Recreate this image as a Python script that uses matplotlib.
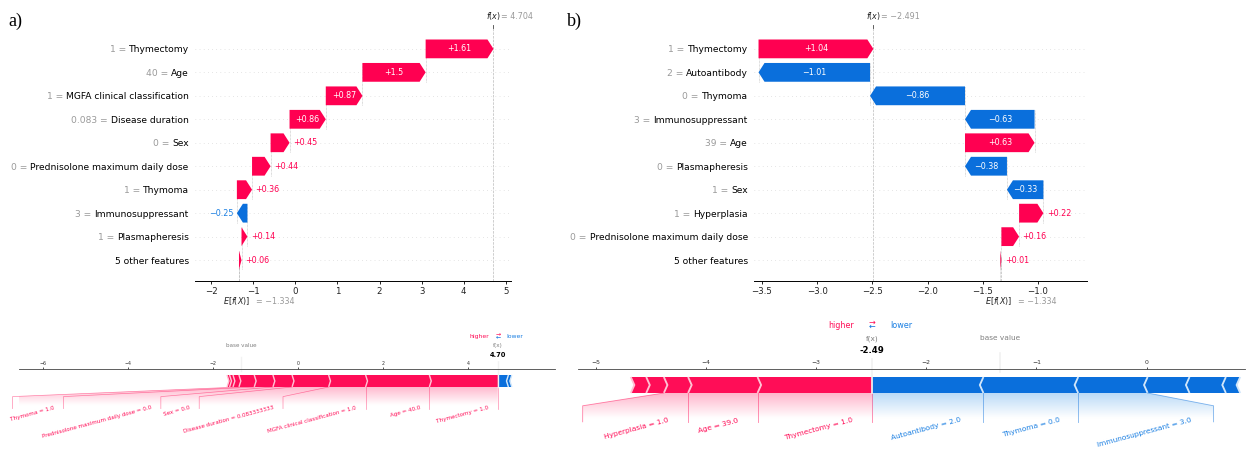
import re
import numpy as np
import matplotlib
matplotlib.use("Agg")
import matplotlib.pyplot as plt
import matplotlib.transforms as mtransforms
from matplotlib import lines as mlines
from matplotlib.path import Path
from matplotlib.patches import PathPatch, Polygon
from matplotlib.colors import LinearSegmentedColormap
from matplotlib.ticker import MultipleLocator

# ---------------- waterfall data ----------------
wf_a_names = ["Thymectomy", "Age", "MGFA clinical classification", "Disease duration", "Sex",
              "Prednisolone maximum daily dose", "Thymoma", "Immunosuppressant",
              "Plasmapheresis", "5 other features"]
wf_a_values = ["1", "40", "1", "0.083", "0", "0", "1", "3", "1", ""]
wf_a_shap = [1.61, 1.5, 0.87, 0.86, 0.45, 0.44, 0.36, -0.25, 0.14, 0.06]
wf_a_base = -1.334
wf_a_fx = 4.704

wf_b_names = ["Thymectomy", "Autoantibody", "Thymoma", "Immunosuppressant", "Age",
              "Plasmapheresis", "Sex", "Hyperplasia", "Prednisolone maximum daily dose",
              "5 other features"]
wf_b_values = ["1", "2", "0", "3", "39", "0", "1", "1", "0", ""]
wf_b_shap = [1.04, -1.01, -0.86, -0.63, 0.63, -0.38, -0.33, 0.22, 0.16, 0.01]
wf_b_base = -1.334
wf_b_fx = -2.491

# ---------------- force plot data ----------------
fa_pos_names = ["Thymectomy", "Age", "MGFA clinical classification", "Disease duration", "Sex",
                "Prednisolone maximum daily dose", "Thymoma", "Plasmapheresis", "", ""]
fa_pos_values = ["1.0", "40.0", "1.0", "0.083333333", "0.0", "0.0", "1.0", "1.0", "", ""]
fa_pos_shap = [1.61, 1.50, 0.87, 0.86, 0.45, 0.44, 0.36, 0.14, 0.08, 0.06]
fa_neg_names = ["Immunosuppressant", ""]
fa_neg_values = ["3.0", ""]
fa_neg_shap = [-0.25, -0.08]
fa_base = -1.334
fa_out = 4.704
fa_ticks = [-6, -4, -2, 0, 2, 4]

fb_pos_names = ["Thymectomy", "Age", "Hyperplasia", "Prednisolone maximum daily dose", ""]
fb_pos_values = ["1.0", "39.0", "1.0", "0.0", ""]
fb_pos_shap = [1.04, 0.63, 0.22, 0.16, 0.14]
fb_neg_names = ["Autoantibody", "Thymoma", "Immunosuppressant", "Plasmapheresis", "Sex", ""]
fb_neg_values = ["2.0", "0.0", "3.0", "0.0", "1.0", ""]
fb_neg_shap = [-1.01, -0.86, -0.63, -0.38, -0.33, -0.13]
fb_base = -1.334
fb_out = -2.491
fb_ticks = [-5, -4, -3, -2, -1, 0]

# ---------------- styling ----------------
W, H, DPI = 1253, 450, 100
WF_RED = "#FF0051"
WF_BLUE = "#0A6FDC"
WF_BLUE_TXT = "#1A7FE2"
F_RED = "#FF0D57"
F_RED_LIGHT = "#FFC3D5"
F_BLUE = "#0A6FDC"
F_BLUE_TXT = "#1A7FE2"
F_BLUE_LIGHT = "#D1E6FA"
LAB_FS = 6.6
VAL_FS = 5.8
TICK_FS = 6.2
EF_FS = 5.8
HEAD_PX = 6.0
GAP_PX = 3.5
PT = 72.0 / DPI  # points per pixel

fig = plt.figure(figsize=(W / DPI, H / DPI), dpi=DPI)
fig.patch.set_facecolor("white")
renderer = fig.canvas.get_renderer()


def format_value(v, fmt):
    s = fmt % v
    s = re.sub(r"\.?0+$", "", s)
    if s[0] == "-":
        s = "\u2212" + s[1:]
    return s


def waterfall(rect, names, feat_vals, shap_vals, base, fx, xlim, step):
    ax = fig.add_axes(rect)
    n = len(names)
    rows = np.arange(n - 1, -1, -1)
    ax.set_xlim(*xlim)
    ax.set_ylim(-0.89, n - 0.11)
    xpp = (xlim[1] - xlim[0]) / (rect[2] * W)
    hl = HEAD_PX * xpp
    gap = GAP_PX * xpp

    loc = fx
    for row, sv in zip(rows, shap_vals):
        loc -= sv
        ax.plot([loc, loc], [row - 1.4, row + 0.4], color="#bbbbbb", lw=0.5,
                dashes=(1, 1), zorder=-1)
        dist = abs(sv)
        d = 1 if sv >= 0 else -1
        col = WF_RED if d > 0 else WF_BLUE
        arr = ax.arrow(loc, row, d * max(dist - hl, 1e-6), 0, head_length=min(dist, hl),
                       width=0.8, head_width=0.8, color=col, lw=0,
                       length_includes_head=False)
        lab = format_value(sv, "%+0.02f")
        t = ax.text(loc + sv / 2, row, lab, ha="center", va="center", color="white",
                    fontsize=VAL_FS)
        if t.get_window_extent(renderer).width > arr.get_window_extent(renderer).width:
            t.remove()
            ax.text(loc + sv + d * gap, row, lab, ha="left" if d > 0 else "right",
                    va="center", color=WF_RED if d > 0 else WF_BLUE_TXT, fontsize=VAL_FS)

    # feature names in black, their values in gray just to the left
    ax.set_yticks(rows)
    ax.set_yticklabels(names, fontsize=LAB_FS, color="black")
    ax.tick_params(axis="y", length=0, pad=4.5)

    for r in rows:
        ax.axhline(r, color="#cccccc", lw=0.5, dashes=(1, 5), zorder=-1)
    ax.axvline(base, 0, 1 / n, color="#bbbbbb", ls="--", lw=0.5, zorder=-1)
    ax.axvline(fx, 0, 1, color="#bbbbbb", ls="--", lw=0.5, zorder=-1)

    for k in ("top", "right", "left"):
        ax.spines[k].set_visible(False)
    ax.spines["bottom"].set_linewidth(0.7)
    ax.xaxis.set_major_locator(MultipleLocator(step))
    ax.tick_params(axis="x", labelsize=TICK_FS, length=2.5, width=0.6, pad=1.5,
                   labelcolor="#222222")

    xa = ax.get_xaxis_transform()
    ax.text(base, 0, "$E[f(X)]$", ha="left", va="center", fontsize=EF_FS, color="#222222",
            transform=mtransforms.offset_copy(xa, fig=fig, x=-16 * PT, y=-20 * PT,
                                              units="points"))
    ax.text(base, 0, "= " + format_value(base, "%0.03f"), ha="left", va="center",
            fontsize=EF_FS, color="#999999",
            transform=mtransforms.offset_copy(xa, fig=fig, x=17 * PT, y=-20.5 * PT,
                                              units="points"))
    ax.text(fx, 1, "$f(x)$", ha="left", va="center", fontsize=EF_FS, color="#222222",
            transform=mtransforms.offset_copy(xa, fig=fig, x=-7 * PT, y=12 * PT,
                                              units="points"))
    ax.text(fx, 1, "= " + format_value(fx, "%0.03f"), ha="left", va="center",
            fontsize=EF_FS, color="#999999",
            transform=mtransforms.offset_copy(xa, fig=fig, x=8 * PT, y=12 * PT,
                                              units="points"))
    ax.plot([fx, fx], [1.0, 1.012], transform=xa, clip_on=False, color="#444444", lw=0.6)

    fig.canvas.draw()
    blend = mtransforms.blended_transform_factory(mtransforms.IdentityTransform(),
                                                  ax.transData)
    for lbl, row, v in zip(ax.get_yticklabels(), rows, feat_vals):
        if v == "":
            continue
        bb = lbl.get_window_extent(renderer)
        ax.text(bb.x0, row, f"{v} = ", ha="right", va="center_baseline", fontsize=LAB_FS,
                color="#999999", transform=blend, clip_on=False)
    return ax


def layout_labels(ax, out, labels, cum, sign, color, offset, total_effect, min_perc, fs, s):
    start_text = out
    pre_val = out
    segs = []
    if sign > 0:
        segs.append(([out, out], [0, -0.18]))
    box_end = out
    inv = ax.transData.inverted()
    n_drawn = 0
    for text, val in zip(labels, cum):
        if text is None:
            break
        if abs(val - pre_val) / abs(total_effect) < min_perc:
            break
        t = ax.text(start_text - sign * offset, -0.15, text, fontsize=fs, color=color,
                    ha="right" if sign > 0 else "left", va="top", rotation=15)
        t.set_bbox(dict(facecolor="none", edgecolor="none", pad=4 * s))
        fig.canvas.draw()
        ext = t.get_bbox_patch().get_extents().transformed(inv)
        be_ = ext.x0 if sign > 0 else ext.x1
        if be_ > ax.get_xlim()[1]:
            t.remove()
            break
        if sign * be_ > sign * val:
            segs.append(([val, val], [0, -0.18]))
            start_text = val
            box_end = val
        else:
            box_end = be_ - sign * offset
            segs.append(([val, box_end, box_end], [0, -0.08, -0.18]))
            start_text = box_end
        pre_val = val
        n_drawn += 1
    return segs, box_end, pre_val, n_drawn


def shade(ax, out, pre_val, box_end, rgb):
    path = Path([[out, 0], [pre_val, 0], [box_end, -0.08], [box_end, -0.2],
                 [out, -0.2], [out, 0]])
    patch = PathPatch(path, facecolor="none", edgecolor="none")
    ax.add_patch(patch)
    cm = LinearSegmentedColormap.from_list("cm", [rgb, (1, 1, 1)])
    _, z2 = np.meshgrid(np.linspace(0, 10), np.linspace(-10, 10))
    im = ax.imshow(z2, interpolation="quadric", cmap=cm, vmax=0.01, alpha=0.3,
                   origin="lower", extent=[out, box_end, 0, -0.31], aspect="auto",
                   clip_path=patch, clip_on=True)
    im.set_clip_path(patch)


def bars(ax, out, cum, sign, sep_w, face, edge, s, wb=0.1):
    pre = out
    rects, seps = [], []
    for idx, v in enumerate(cum):
        if sign > 0:
            left, right = v, pre
            indent = abs(sep_w)
            sep_pos = left
        else:
            left, right = pre, v
            indent = -abs(sep_w)
            sep_pos = right
        pre = v
        if idx == 0:
            if sign > 0:
                pts = [[left, 0], [right, 0], [right, wb], [left, wb], [left + indent, wb / 2]]
            else:
                pts = [[right, 0], [left, 0], [left, wb], [right, wb], [right + indent, wb / 2]]
        else:
            pts = [[left, 0], [right, 0], [right + indent * 0.9, wb / 2], [right, wb],
                   [left, wb], [left + indent * 0.9, wb / 2]]
        rects.append(Polygon(pts, closed=True, fill=True, facecolor=face, linewidth=0))
        seps.append(Polygon([[sep_pos, 0], [sep_pos + indent, wb / 2], [sep_pos, wb]],
                            closed=False, fill=False, edgecolor=edge, lw=3 * s))
    for p in rects:
        ax.add_patch(p)
    for p in seps:
        ax.add_patch(p)


def force_plot(rect, base, out, pos_names, pos_vals, pos_shap, neg_names, neg_vals, neg_shap,
               xlim_layout, xlim_final, ylim, s, ticks, axis_end):
    ax = fig.add_axes(rect)
    ax.set_xlim(*xlim_layout)
    ax.set_ylim(*ylim)
    pos_shap = np.asarray(pos_shap, float)
    neg_abs = np.abs(np.asarray(neg_shap, float))
    total_effect = pos_shap.sum() + neg_abs.sum()
    offset = 0.03 * total_effect
    pos_cum = out - np.cumsum(pos_shap)
    neg_cum = out + np.cumsum(neg_abs)
    sep_w = (xlim_layout[1] - xlim_layout[0]) / 200
    fs = 12 * s

    def texts(names, vals):
        return [f"{nm} = {v}" if nm else None for nm, v in zip(names, vals)]

    neg_lay = layout_labels(ax, out, texts(neg_names, neg_vals), neg_cum, -1, F_BLUE_TXT,
                            offset, total_effect, 0.035, fs, s)
    pos_lay = layout_labels(ax, out, texts(pos_names, pos_vals), pos_cum, 1, F_RED,
                            offset, total_effect, 0.035, fs, s)
    ax.set_xlim(*xlim_final)

    for (segs, box_end, pre_val, nd), col, rgb in (
            (neg_lay, F_BLUE, (30 / 255, 136 / 255, 229 / 255)),
            (pos_lay, F_RED, (1.0, 13 / 255, 87 / 255))):
        for xs, ys in segs:
            ln = mlines.Line2D(xs, ys, lw=1.0 * s * 1.4, alpha=0.5, color=col)
            ln.set_clip_on(False)
            ax.add_line(ln)
        if nd > 0:
            shade(ax, out, pre_val, box_end, rgb)

    bars(ax, out, neg_cum, -1, sep_w, F_BLUE, F_BLUE_LIGHT, s)
    bars(ax, out, pos_cum, 1, sep_w, F_RED, F_RED_LIGHT, s)

    # output value marker
    ln = mlines.Line2D([out, out], [0, 0.24], lw=2.0 * s * 1.4, color="#F2F2F2")
    ln.set_clip_on(False)
    ax.add_line(ln)
    t = ax.text(out, 0.25, "{0:.2f}".format(out), fontsize=14 * s, fontweight="bold",
                ha="center")
    t.set_bbox(dict(facecolor="white", edgecolor="white", pad=4 * s))
    t = ax.text(out, 0.33, "f(x)", fontsize=12 * s, alpha=0.5, ha="center")
    t.set_bbox(dict(facecolor="white", edgecolor="white", pad=4 * s))

    # base value marker
    ln = mlines.Line2D([base, base], [0.13, 0.25], lw=2.0 * s * 1.4, color="#F2F2F2")
    ln.set_clip_on(False)
    ax.add_line(ln)
    t = ax.text(base, 0.33, "base value", fontsize=12 * s, alpha=0.5, ha="center")
    t.set_bbox(dict(facecolor="white", edgecolor="white", pad=4 * s))

    # higher / lower legend
    ax.text(out - offset, 0.405, "higher", fontsize=13 * s, color=F_RED, ha="right")
    ax.text(out + offset, 0.405, "lower", fontsize=13 * s, color=F_BLUE_TXT, ha="left")
    ax.text(out, 0.4, r"$\leftarrow$", fontsize=13 * s, color=F_BLUE, ha="center")
    ax.text(out, 0.425, r"$\rightarrow$", fontsize=13 * s, color=F_RED, ha="center")

    ax.set_xlim(*xlim_final)
    ax.set_ylim(*ylim)
    ax.set_xticks(ticks)
    ax.tick_params(top=True, bottom=False, left=False, right=False, labelleft=False,
                   labeltop=True, labelbottom=False, labelsize=10 * s, length=3.5 * s,
                   width=0.6, pad=3.0 * s, colors="#333333")
    ax.set_yticks([])
    for k, sp in ax.spines.items():
        sp.set_visible(k == "top")
    ax.spines["top"].set_linewidth(0.6)
    ax.spines["top"].set_color("#444444")
    ax.spines["top"].set_bounds(xlim_final[0], axis_end)
    ax.patch.set_alpha(0)
    return ax


# waterfall panels
waterfall([195 / W, (H - 281) / H, 316 / W, 253 / H], wf_a_names, wf_a_values, wf_a_shap,
          wf_a_base, wf_a_fx, (-2.38, 5.12), 1)
waterfall([754 / W, (H - 281) / H, 333 / W, 253 / H], wf_b_names, wf_b_values, wf_b_shap,
          wf_b_base, wf_b_fx, (-3.572, -0.556), 0.5)

# force panels
force_plot([19 / W, 3 / H, 536 / W, 78 / H], fa_base, fa_out,
           fa_pos_names, fa_pos_values, fa_pos_shap, fa_neg_names, fa_neg_values, fa_neg_shap,
           (-2.92, 6.05), (-6.56, 6.05), (-0.5, 0.15), 0.34, fa_ticks, 6.05)
force_plot([578 / W, 1 / H, 718.5 / W, 80 / H], fb_base, fb_out,
           fb_pos_names, fb_pos_values, fb_pos_shap, fb_neg_names, fb_neg_values, fb_neg_shap,
           (-5.16, 1.36), (-5.16, 1.36), (-0.35, 0.15), 0.44, fb_ticks, 0.89)

fig.text(8 / W, 1 - 21 / H, "a)", fontsize=13, family="Liberation Serif", va="center")
fig.text(567 / W, 1 - 21 / H, "b)", fontsize=13, family="Liberation Serif", va="center")

fig.savefig("out.png", dpi=DPI, facecolor="white")
